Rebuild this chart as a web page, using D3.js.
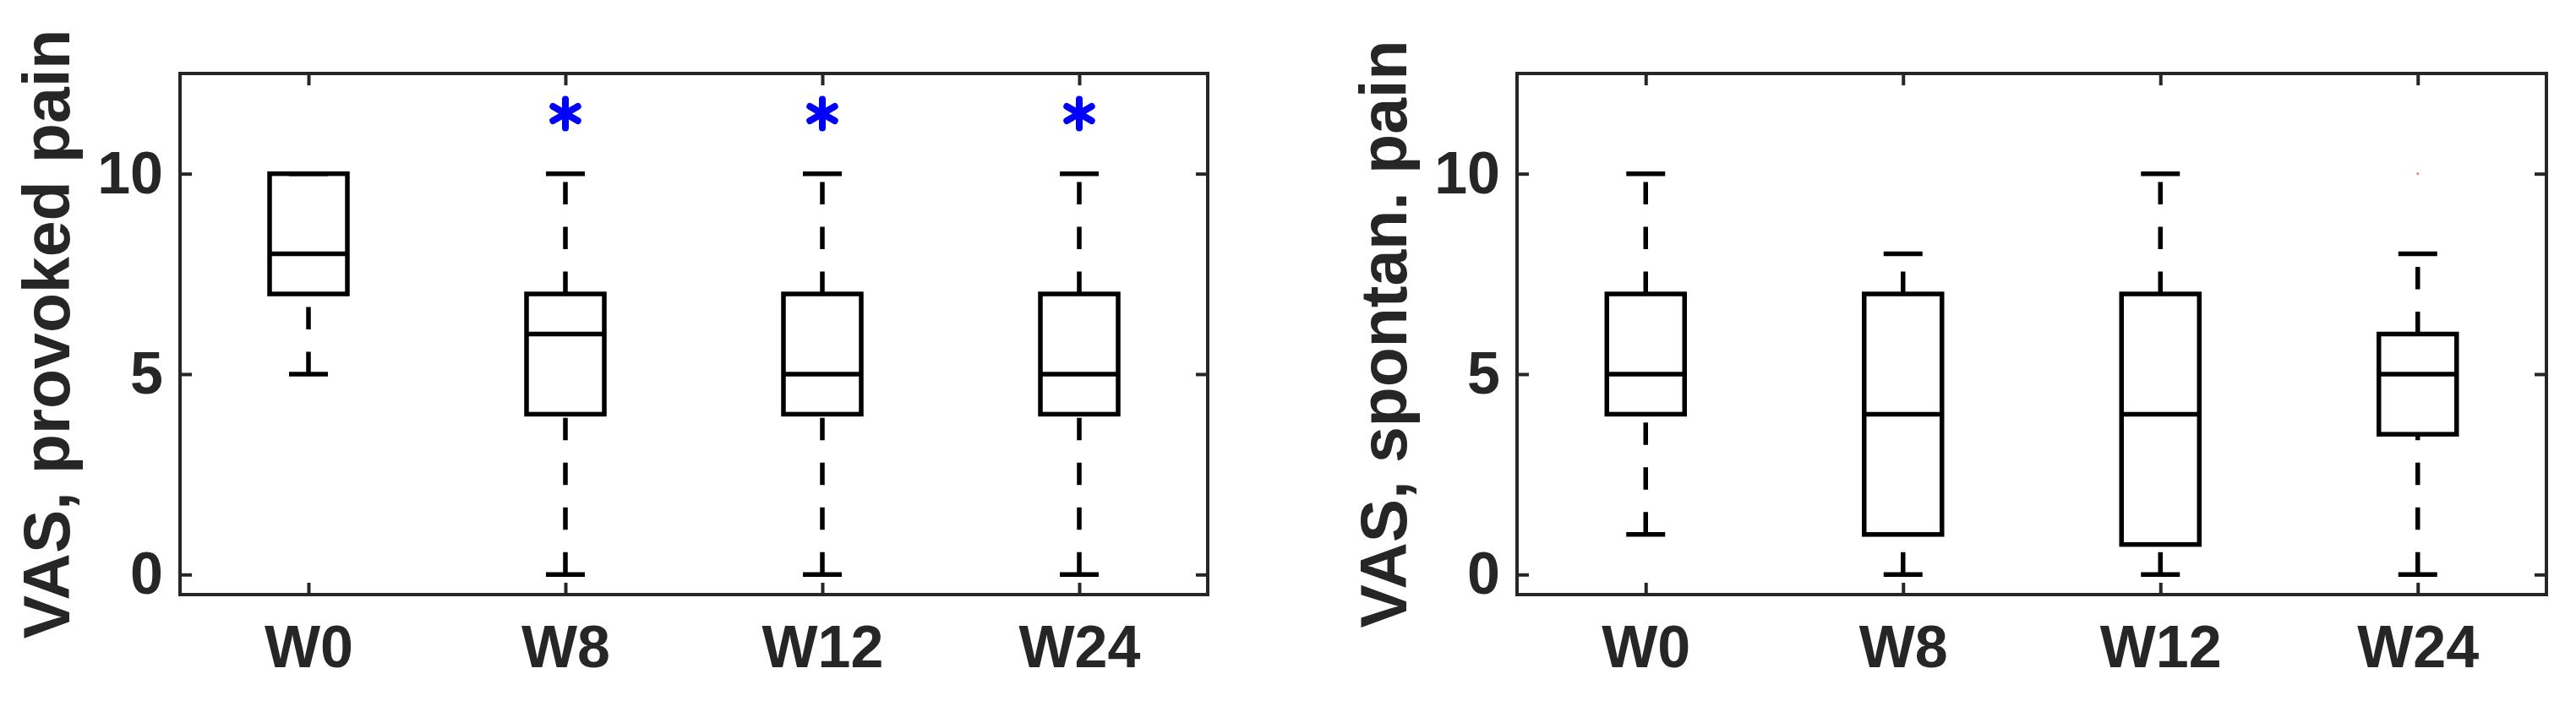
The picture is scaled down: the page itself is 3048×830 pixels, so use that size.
<!DOCTYPE html>
<html>
<head>
<meta charset="utf-8">
<script src="https://cdn.jsdelivr.net/npm/d3@7"></script>
<style>
  body { margin: 0; background: #fff; }
  text { font-family: "Liberation Sans", Arial, Helvetica, sans-serif; font-weight: bold; }
</style>
</head>
<body>
<svg width="3048" height="830"></svg>
<script>
// weeks on the x axis
var categories = ["W0", "W8", "W12", "W24"];
var yTicks = [0, 5, 10];

// VAS provoked pain
var provokedLow = [5, 0, 0, 0];
var provokedQ1 = [7, 4, 4, 4];
var provokedMedian = [8, 6, 5, 5];
var provokedQ3 = [10, 7, 7, 7];
var provokedHigh = [10, 10, 10, 10];
var provokedSignificant = ["W8", "W12", "W24"];
var provokedOutliers = [];

// VAS spontaneous pain
var spontLow = [1, 0, 0, 0];
var spontQ1 = [4, 1, 0.75, 3.5];
var spontMedian = [5, 4, 4, 5];
var spontQ3 = [7, 7, 7, 6];
var spontHigh = [10, 8, 10, 8];
var spontSignificant = [];
var spontOutliers = [{cat: "W24", value: 10}];

var starLevel = 11.5;

var svg = d3.select("svg");
svg.append("rect").attr("width", 3048).attr("height", 830).attr("fill", "#fff");

function makeBoxes(low, q1, med, q3, high) {
    return categories.map(function(c, i) {
        return {cat: c, idx: i, low: low[i], q1: q1[i], med: med[i], q3: q3[i], high: high[i]};
    });
}

function drawPanel(left, right, label, boxes, significant, outliers) {
    var top = 87, bottom = 704;
    var x = d3.scaleLinear().domain([0.5, categories.length + 0.5]).range([left, right]);
    var y = d3.scaleLinear().domain([-0.5, 12.5]).range([bottom, top]);
    var xPos = function(c) { return x(categories.indexOf(c) + 1); };
    var boxHalf = 46, capHalf = 23;
    var axisColor = "#262626";
    var lw = 5.5;

    var g = svg.append("g");

    // bottom / left axes with inward ticks, labels outside
    var xAxis = d3.axisBottom(x).tickValues(d3.range(1, categories.length + 1))
        .tickFormat(function(d) { return categories[d - 1]; })
        .tickSizeInner(-14).tickSizeOuter(0).tickPadding(36);
    var gx = g.append("g").attr("transform", "translate(0," + bottom + ")").call(xAxis);
    gx.selectAll("text").attr("font-size", 70).attr("fill", axisColor).attr("dy", "0.71em");

    var yAxis = d3.axisLeft(y).tickValues(yTicks).tickSizeInner(-14).tickSizeOuter(0).tickPadding(20);
    var gy = g.append("g").attr("transform", "translate(" + left + ",0)").call(yAxis);
    gy.selectAll("text").attr("font-size", 70).attr("fill", axisColor);

    // top / right mirrored ticks
    g.append("g").attr("transform", "translate(0," + top + ")")
        .call(d3.axisTop(x).tickValues(d3.range(1, categories.length + 1)).tickSizeInner(-14).tickSizeOuter(0).tickFormat(""));
    g.append("g").attr("transform", "translate(" + right + ",0)")
        .call(d3.axisRight(y).tickValues(yTicks).tickSizeInner(-14).tickSizeOuter(0).tickFormat(""));

    g.selectAll(".domain").remove();
    g.selectAll(".tick line").attr("stroke", axisColor).attr("stroke-width", 4);

    g.append("rect")
        .attr("x", left).attr("y", top)
        .attr("width", right - left).attr("height", bottom - top)
        .attr("fill", "none").attr("stroke", axisColor).attr("stroke-width", 4);

    g.append("text")
        .attr("transform", "translate(" + (left - 131) + "," + ((top + bottom) / 2) + ") rotate(-90)")
        .attr("text-anchor", "middle")
        .attr("font-size", 77)
        .attr("fill", axisColor)
        .text(label);

    var bx = g.selectAll(".bx").data(boxes).enter().append("g").attr("class", "bx");

    // whiskers, drawn from the lower value upward so the dash phase matches
    bx.append("line")
        .attr("x1", function(d) { return xPos(d.cat); })
        .attr("x2", function(d) { return xPos(d.cat); })
        .attr("y1", function(d) { return y(d.q3); })
        .attr("y2", function(d) { return y(d.high); })
        .attr("stroke", "#000").attr("stroke-width", lw).attr("stroke-dasharray", "26.5 26.5");
    bx.append("line")
        .attr("x1", function(d) { return xPos(d.cat); })
        .attr("x2", function(d) { return xPos(d.cat); })
        .attr("y1", function(d) { return y(d.low); })
        .attr("y2", function(d) { return y(d.q1); })
        .attr("stroke", "#000").attr("stroke-width", lw).attr("stroke-dasharray", "26.5 26.5");

    // caps
    ["low", "high"].forEach(function(k) {
        bx.append("line")
            .attr("x1", function(d) { return xPos(d.cat) - capHalf; })
            .attr("x2", function(d) { return xPos(d.cat) + capHalf; })
            .attr("y1", function(d) { return y(d[k]); })
            .attr("y2", function(d) { return y(d[k]); })
            .attr("stroke", "#000").attr("stroke-width", lw);
    });

    bx.append("rect")
        .attr("x", function(d) { return xPos(d.cat) - boxHalf; })
        .attr("y", function(d) { return y(d.q3); })
        .attr("width", boxHalf * 2)
        .attr("height", function(d) { return y(d.q1) - y(d.q3); })
        .attr("fill", "none").attr("stroke", "#000").attr("stroke-width", lw);

    bx.append("line")
        .attr("x1", function(d) { return xPos(d.cat) - boxHalf; })
        .attr("x2", function(d) { return xPos(d.cat) + boxHalf; })
        .attr("y1", function(d) { return y(d.med); })
        .attr("y2", function(d) { return y(d.med); })
        .attr("stroke", "#000").attr("stroke-width", lw);

    g.selectAll(".out").data(outliers).enter().append("circle")
        .attr("class", "out")
        .attr("cx", function(d) { return xPos(d.cat); })
        .attr("cy", function(d) { return y(d.value); })
        .attr("r", 1.6)
        .attr("fill", "#ff3030").attr("opacity", 0.6);

    // significance asterisks
    var r = 17, t = r / 2, u = t * Math.sqrt(3);
    g.selectAll(".star").data(significant).enter().append("path")
        .attr("class", "star")
        .attr("transform", function(d) { return "translate(" + xPos(d) + "," + y(starLevel) + ")"; })
        .attr("d", function() {
            var p = d3.path();
            p.moveTo(0, -r); p.lineTo(0, r);
            p.moveTo(-u, -t); p.lineTo(u, t);
            p.moveTo(-u, t); p.lineTo(u, -t);
            return p.toString();
        })
        .attr("stroke", "#0000ff").attr("stroke-width", 8).attr("stroke-linecap", "round").attr("fill", "none");
}

drawPanel(213, 1429, "VAS, provoked pain",
    makeBoxes(provokedLow, provokedQ1, provokedMedian, provokedQ3, provokedHigh),
    provokedSignificant, provokedOutliers);

drawPanel(1795, 3013, "VAS, spontan. pain",
    makeBoxes(spontLow, spontQ1, spontMedian, spontQ3, spontHigh),
    spontSignificant, spontOutliers);
</script>
</body>
</html>
